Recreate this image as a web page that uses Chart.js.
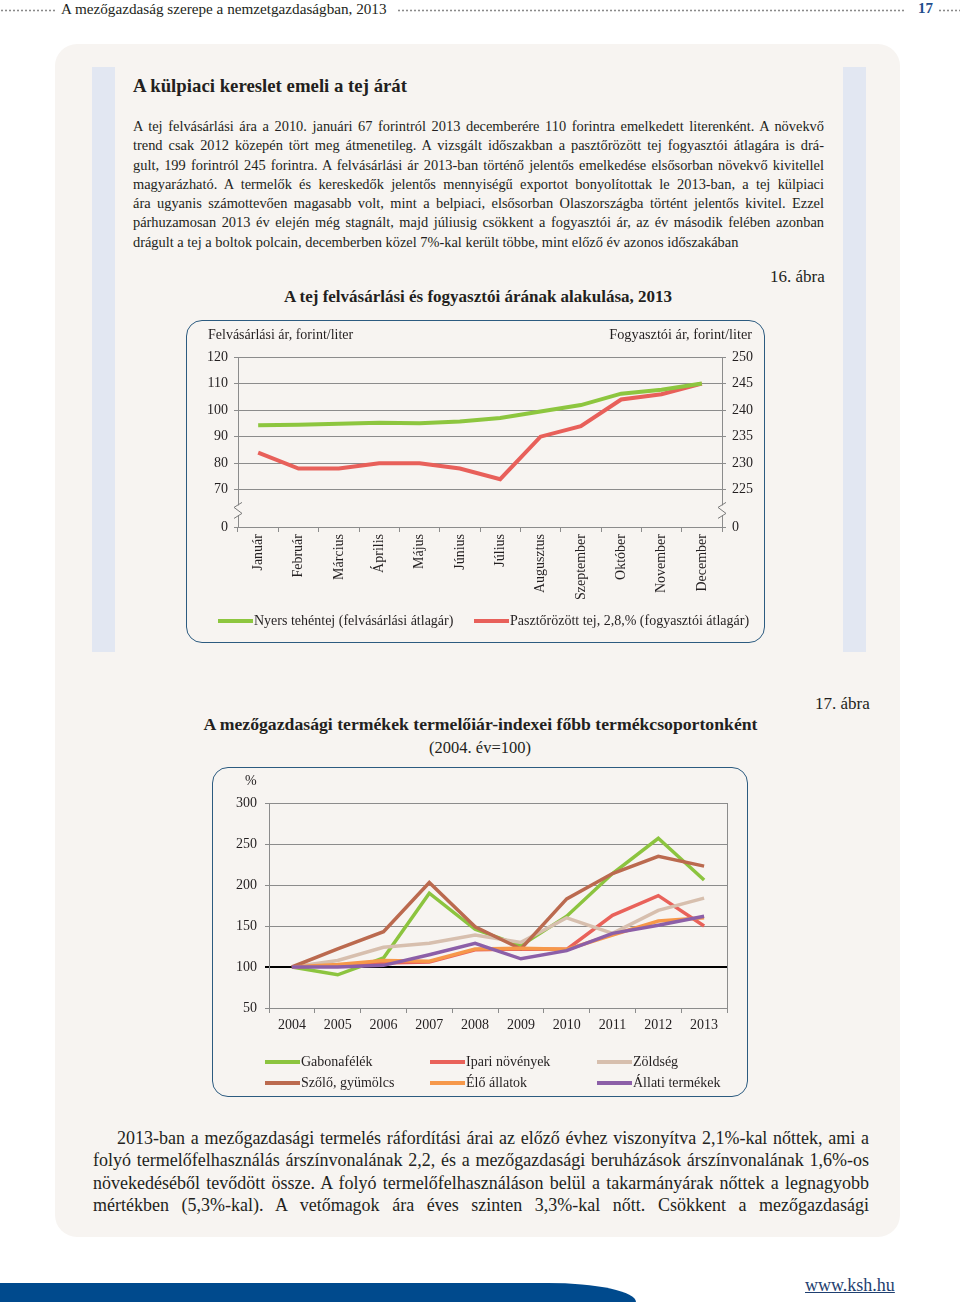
<!DOCTYPE html>
<html>
<head>
<meta charset="utf-8">
<script src="https://cdn.jsdelivr.net/npm/chart.js@4/dist/chart.umd.min.js"></script>
<style>
body{margin:0;width:960px;height:1308px;position:relative;background:#fff;font-family:"Liberation Serif",serif;color:#231f20;overflow:hidden}
.a{position:absolute;white-space:nowrap}
.dots{position:absolute;height:3px;background-image:radial-gradient(circle,#8a8a8a 0.9px,transparent 1.2px);background-size:4px 3px}
.panel{position:absolute;left:55px;top:44px;width:845px;height:1193px;background:#f7f4f1;border-radius:22px}
.stripe{position:absolute;top:67px;width:23px;height:585px;background:#e2e7f2}
.para div{text-align:justify;text-align-last:justify;white-space:nowrap}
.para div.last{text-align-last:left}
.box{position:absolute;border:1.5px solid #2c5b80;border-radius:16px;box-sizing:border-box}
.lg{position:absolute;font-size:14px;white-space:nowrap;line-height:16px}
.lg i{display:inline-block;width:35px;height:4px;vertical-align:middle;margin-right:1px;position:relative;top:-1px}
</style>
</head>
<body>
<div class="dots" style="left:0;top:9px;width:57px"></div>
<div class="a" style="left:61px;top:0px;font-size:15.2px">A mezőgazdaság szerepe a nemzetgazdaságban, 2013</div>
<div class="dots" style="left:397px;top:9px;width:509px"></div>
<div class="a" style="left:918px;top:0px;font-size:15px;font-weight:bold;color:#1f4e8c">17</div>
<div class="dots" style="left:938px;top:9px;width:22px"></div>

<div class="panel"></div>
<div class="stripe" style="left:92px"></div>
<div class="stripe" style="left:843px"></div>

<div class="a" style="left:133px;top:75px;font-size:18.8px;font-weight:bold">A külpiaci kereslet emeli a tej árát</div>
<div class="a para" style="left:133px;top:117px;width:691px;font-size:14.4px;line-height:19.3px">
<div>A tej felvásárlási ára a 2010. januári 67 forintról 2013 decemberére 110 forintra emelkedett literenként. A növekvő</div>
<div>trend csak 2012 közepén tört meg átmenetileg. A vizsgált időszakban a pasztőrözött tej fogyasztói átlagára is drá-</div>
<div>gult, 199 forintról 245 forintra. A felvásárlási ár 2013-ban történő jelentős emelkedése elsősorban növekvő kivitellel</div>
<div>magyarázható. A termelők és kereskedők jelentős mennyiségű exportot bonyolítottak le 2013-ban, a tej külpiaci</div>
<div>ára ugyanis számottevően magasabb volt, mint a belpiaci, elsősorban Olaszországba történt jelentős kivitel. Ezzel</div>
<div>párhuzamosan 2013 év elején még stagnált, majd júliusig csökkent a fogyasztói ár, az év második felében azonban</div>
<div class="last">drágult a tej a boltok polcain, decemberben közel 7%-kal került többe, mint előző év azonos időszakában</div>
</div>

<div class="a" style="left:770px;top:267px;font-size:17px">16. ábra</div>
<div class="a" style="left:0;width:956px;text-align:center;top:287px;font-size:17px;font-weight:bold">A tej felvásárlási és fogyasztói árának alakulása, 2013</div>

<div class="box" style="left:186px;top:320px;width:579px;height:323px"></div>
<canvas id="c1" width="577" height="321" style="position:absolute;left:187px;top:321px"></canvas>
<div class="a" style="left:208px;top:327px;font-size:14px">Felvásárlási ár, forint/liter</div>
<div class="a" style="right:208px;top:326px;font-size:14.3px">Fogyasztói ár, forint/liter</div>
<div id="legend1"></div>

<div class="a" style="left:815px;top:694px;font-size:17px">17. ábra</div>
<div class="a" style="left:0;width:961px;text-align:center;top:714px;font-size:17.7px;font-weight:bold">A mezőgazdasági termékek termelőiár-indexei főbb termékcsoportonként</div>
<div class="a" style="left:0;width:960px;text-align:center;top:738px;font-size:16.5px">(2004. év=100)</div>

<div class="box" style="left:212px;top:767px;width:536px;height:330px"></div>
<canvas id="c2" width="534" height="328" style="position:absolute;left:213px;top:768px"></canvas>
<div class="a" style="left:245px;top:773px;font-size:14px">%</div>
<div id="legend2"></div>

<div class="a para" style="left:93px;top:1127px;width:776px;font-size:18px;line-height:22.4px">
<div style="padding-left:24px">2013-ban a mezőgazdasági termelés ráfordítási árai az előző évhez viszonyítva 2,1%-kal nőttek, ami a</div>
<div>folyó termelőfelhasználás árszínvonalának 2,2, és a mezőgazdasági beruházások árszínvonalának 1,6%-os</div>
<div>növekedéséből tevődött össze. A folyó termelőfelhasználáson belül a takarmányárak nőttek a legnagyobb</div>
<div>mértékben (5,3%-kal). A vetőmagok ára éves szinten 3,3%-kal nőtt. Csökkent a mezőgazdasági</div>
</div>

<div style="position:absolute;left:0;top:1283px;width:636px;height:19px;background:#004a8d;border-top-right-radius:88px 19px"></div>
<div class="a" style="left:805px;top:1275px;font-size:18px;color:#1f3f70;text-decoration:underline">www.ksh.hu</div>

<script>
// 16. ábra
const months = ["Január","Február","Március","Április","Május","Június","Július","Augusztus","Szeptember","Október","November","December"];
const rawMilkPrice = [94.3,94.5,94.9,95.2,95.1,95.7,97.0,99.5,101.9,106.2,107.7,110.0];
const pasteurizedPrice = [232,229,229,230,230,229,227,235,237,242,243,245];
const leftTicks = [70,80,90,100,110,120];
const rightTicks = [225,230,235,240,245,250];
const leftBreak = 56, rightBreak = 218;   // where the "0" sits below the axis break
const milkNames = ["Nyers tehéntej (felvásárlási átlagár)","Pasztőrözött tej, 2,8,% (fogyasztói átlagár)"];
const milkColors = ["#8dc63f","#e8605a"];

// 17. ábra
const years = ["2004","2005","2006","2007","2008","2009","2010","2011","2012","2013"];
const gabona = [100,90.5,111,190,146,126,162,214,257,206];
const ipari = [100,102,105,106,121,122,121.5,163,187,150];
const zoldseg = [100,108,124,129,139,130,160,141,169,184];
const szolo = [100,122,143,203,149,122,183,214,235,223];
const eloAllat = [100,103,108,107,122,123,121.5,139,156,160];
const allati = [100,100,102,115,129,110,120,141,151,162];
const indexTicks = [50,100,150,200,250,300];

const seriesNames = ["Gabonafélék","Ipari növények","Zöldség","Szőlő, gyümölcs","Élő állatok","Állati termékek"];
const seriesData = [gabona, ipari, zoldseg, szolo, eloAllat, allati];
const seriesColors = ["#8cc43f","#e9625a","#d7bfae","#bb6a4f","#f6984a","#8c5fa8"];

const panelBg = "#f7f4f1";
const gridCol = "#8c8c8c";
const tickFont = {family:"Liberation Serif", size:14};

Chart.defaults.font.family = "Liberation Serif";
Chart.defaults.color = "#231f20";

const axisBreak = {
  id: "axisBreak",
  afterDraw(chart){
    const ctx = chart.ctx;
    const y = chart.scales.y;
    const yMid = (y.getPixelForValue(leftTicks[0]) + y.getPixelForValue(leftBreak)) / 2 + 2;
    [chart.chartArea.left, chart.chartArea.right].forEach(x=>{
      ctx.save();
      ctx.fillStyle = panelBg;
      ctx.fillRect(x-2, yMid-5, 4, 10);
      ctx.strokeStyle = "#7a7a7a";
      ctx.lineWidth = 1;
      ctx.beginPath();
      ctx.moveTo(x+4, yMid-8);
      ctx.lineTo(x-4, yMid-3);
      ctx.lineTo(x+4, yMid+3);
      ctx.lineTo(x-4, yMid+8);
      ctx.stroke();
      ctx.restore();
    });
  }
};

new Chart(document.getElementById("c1"), {
  type: "line",
  data: {
    labels: months,
    datasets: [
      {label:milkNames[0], data: rawMilkPrice, yAxisID:"y",
       borderColor:milkColors[0], borderWidth:4, pointRadius:0, tension:0},
      {label:milkNames[1], data: pasteurizedPrice, yAxisID:"y1",
       borderColor:milkColors[1], borderWidth:4, pointRadius:0, tension:0}
    ]
  },
  options: {
    responsive:false, animation:false,
    layout:{padding:{top:36,left:0,right:0,bottom:35}},
    plugins:{tooltip:{enabled:false}, legend:{display:false}},
    scales:{
      x:{
        offset:true,
        grid:{offset:true, drawOnChartArea:false, tickLength:5, color:gridCol},
        border:{color:gridCol},
        ticks:{minRotation:90, maxRotation:90, font:tickFont, padding:2},
        afterFit: s => { s.height = 80; }
      },
      y:{
        position:"left", min:leftBreak, max:120,
        afterBuildTicks: s => { s.ticks = [leftBreak, ...leftTicks].map(v=>({value:v})); },
        ticks:{font:tickFont, padding:6, callback: v => v === leftBreak ? "0" : v},
        grid:{color:gridCol, tickLength:4},
        border:{color:gridCol},
        afterFit: s => { s.width = 51; }
      },
      y1:{
        position:"right", min:rightBreak, max:250,
        afterBuildTicks: s => { s.ticks = [rightBreak, ...rightTicks].map(v=>({value:v})); },
        ticks:{font:tickFont, padding:6, callback: v => v === rightBreak ? "0" : v},
        grid:{drawOnChartArea:false, color:gridCol, tickLength:4},
        border:{color:gridCol},
        afterFit: s => { s.width = 42; }
      }
    }
  },
  plugins:[axisBreak]
});

new Chart(document.getElementById("c2"), {
  type: "line",
  data: {
    labels: years,
    datasets: seriesNames.map((name,i)=>({
      label:name, data:seriesData[i], borderColor:seriesColors[i],
      borderWidth:3.5, pointRadius:0, tension:0, order:seriesNames.length - i
    }))
  },
  options: {
    responsive:false, animation:false,
    layout:{padding:{top:35,left:0,right:20,bottom:62}},
    plugins:{tooltip:{enabled:false}, legend:{display:false}},
    scales:{
      x:{
        offset:true,
        grid:{offset:true, drawOnChartArea:false, tickLength:5, color:gridCol},
        border:{color:gridCol},
        ticks:{maxRotation:0, font:tickFont, padding:4},
        afterFit: s => { s.height = 26; }
      },
      y:{
        min:50, max:300,
        afterBuildTicks: s => { s.ticks = indexTicks.map(v=>({value:v})); },
        ticks:{font:tickFont, padding:8},
        grid:{
          color: c => c.tick && c.tick.value === 100 ? "#000" : gridCol,
          lineWidth: c => c.tick && c.tick.value === 100 ? 2 : 1,
          tickLength:4
        },
        border:{color:gridCol},
        afterFit: s => { s.width = 56; }
      },
      y2:{
        position:"right", min:50, max:300,
        ticks:{display:false},
        grid:{drawOnChartArea:false, drawTicks:false},
        border:{color:gridCol},
        afterFit: s => { s.width = 0; }
      }
    }
  }
});

function addLegendItem(parent, x, y, color, name){
  const d = document.createElement("div");
  d.className = "lg";
  d.style.left = x + "px";
  d.style.top = y + "px";
  d.innerHTML = `<i style="background:${color}"></i>${name}`;
  parent.appendChild(d);
}

// legend for 16. ábra
const legend1 = document.getElementById("legend1");
[218, 474].forEach((x,i)=> addLegendItem(legend1, x, 613, milkColors[i], milkNames[i]));

// legend for 17. ábra, three columns like the original
const legendCols = [265, 430, 597];
const legendRows = [1054, 1075];
const legend2 = document.getElementById("legend2");
seriesNames.forEach((name,i)=> addLegendItem(legend2, legendCols[i % 3], legendRows[Math.floor(i / 3)], seriesColors[i], name));
</script>
</body>
</html>
